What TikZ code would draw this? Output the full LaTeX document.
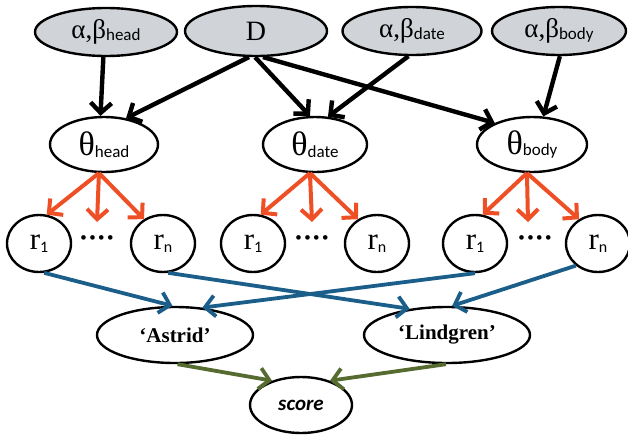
\documentclass[tikz,border=0pt]{standalone}
\usepackage{fontspec}
\setmainfont{Liberation Serif}
\newfontfamily\subfont{Carlito}
\usetikzlibrary{shapes.geometric,arrows.meta}
\definecolor{grayfill}{HTML}{D0D4D8}
\definecolor{redarr}{HTML}{EE4F25}
\definecolor{bluearr}{HTML}{1B5E8A}
\definecolor{greenarr}{HTML}{556B2F}
\newcommand{\subtxt}[1]{{\subfont\fontsize{17}{17}\selectfont\raisebox{-1.5pt}{#1}}}
\newcommand{\rsub}[1]{{\subfont\fontsize{16}{16}\selectfont\raisebox{-2.5pt}{#1}}}
\newcommand{\mydots}{\textbullet\hspace{3pt}\textbullet\hspace{3pt}\textbullet\hspace{3pt}\textbullet}
\tikzset{
  ell/.style={ellipse, draw=black, line width=2.4pt, inner sep=0pt, fill=white},
  topnode/.style={ell, fill=grayfill, minimum width=140pt, minimum height=48pt, font=\fontsize{27}{27}\selectfont},
  thnode/.style={ell, minimum width=106pt, minimum height=55pt, font=\fontsize{34}{34}\selectfont},
  rnode/.style={ell, minimum width=64pt, minimum height=57pt, font=\fontsize{31}{31}\selectfont},
  wordnode/.style={ell, minimum height=56pt, font=\fontsize{21}{21}\selectfont\bfseries},
  dotsnode/.style={inner sep=0pt, font=\fontsize{17}{17}\selectfont\bfseries},
  arr/.style={-{Straight Barb[length=10pt,width=21pt]}},
  blk/.style={arr, draw=black, line width=4.4pt},
  red/.style={arr, draw=redarr, line width=4pt},
  blu/.style={arr, draw=bluearr, line width=3.8pt},
  grn/.style={arr, draw=greenarr, line width=3.8pt},
}
\begin{document}
\begin{tikzpicture}[x=1pt,y=-1pt]
\useasboundingbox (0,0) rectangle (628,434);
% top row
\node[topnode, minimum width=142pt] (ah) at (106,32) {α,β\subtxt{head}};
\node[topnode, minimum width=142pt, minimum height=50pt, font=\fontsize{28}{28}\selectfont] (D) at (256,31) {D};
\node[topnode, minimum width=139pt] (ad) at (412,31) {α,β\subtxt{date}};
\node[topnode, minimum width=134pt] (ab) at (559,31) {α,β\subtxt{body}\hspace{22pt}};
% theta row
\node[thnode, minimum width=108pt] (thh) at (104,144.5) {θ\subtxt{head}};
\node[thnode, minimum width=104pt] (thd) at (315,144.5) {θ\subtxt{date}};
\node[thnode, minimum width=110pt] (thb) at (532,144.5) {θ\subtxt{body}};
% r row
\node[rnode] (rh1) at (39,243.5) {r\rsub{1}};
\node[rnode] (rhn) at (163,243.5) {r\rsub{n}};
\node[rnode] (rd1) at (253,243.5) {r\rsub{1}};
\node[rnode] (rdn) at (377,243.5) {r\rsub{n}};
\node[rnode] (rb1) at (475,243.5) {r\rsub{1}};
\node[rnode] (rbn) at (598,243.5) {r\rsub{n}};
\node[dotsnode] (dh) at (97,240) {\mydots};
\node[dotsnode] (dd) at (312,240) {\mydots};
\node[dotsnode] (db) at (535,240) {\mydots};
% bottom
\node[wordnode, minimum width=156pt] (as) at (175,335) {‘Astrid’};
\node[wordnode, minimum width=166pt] (li) at (447,335) {‘Lindgren’};
\node[ell, minimum width=102pt, minimum height=56pt, font=\fontsize{21}{21}\selectfont\subfont\bfseries\itshape] (sc) at (301,405) {score};
% free ends
\coordinate (mh) at (97,222);
\coordinate (md) at (312,222);
\coordinate (mb) at (528,222);
% black arrows
\draw[blk] (ah.264) -- (thh.97);
\draw[blk] (D.255) -- (thh.50);
\draw[blk] (D.268) -- (thd.100);
\draw[blk] (D.285) -- (thb.150);
\draw[blk] (ad.262) -- (thd.65);
\draw[blk] (ab.272) -- (thb.68);
% red arrows
\foreach \t/\a/\m/\b in {thh/rh1/mh/rhn, thd/rd1/md/rdn, thb/rb1/mb/rbn}{
  \draw[red] (\t.260) -- (\a.75);
  \draw[red] (\t.260) -- (\m);
  \draw[red] (\t.260) -- (\b.128);
}
% blue arrows
\draw[blu] (rh1.280) -- (as.95);
\draw[blu] (rhn.280) -- (li.145);
\draw[blu] (rb1.270) -- (as.45);
\draw[blu] (rbn.225) -- (li.80);
% green arrows
\draw[grn] (as.275) -- (sc.140);
\draw[grn] (li.268) -- (sc.40);
\end{tikzpicture}
\end{document}
